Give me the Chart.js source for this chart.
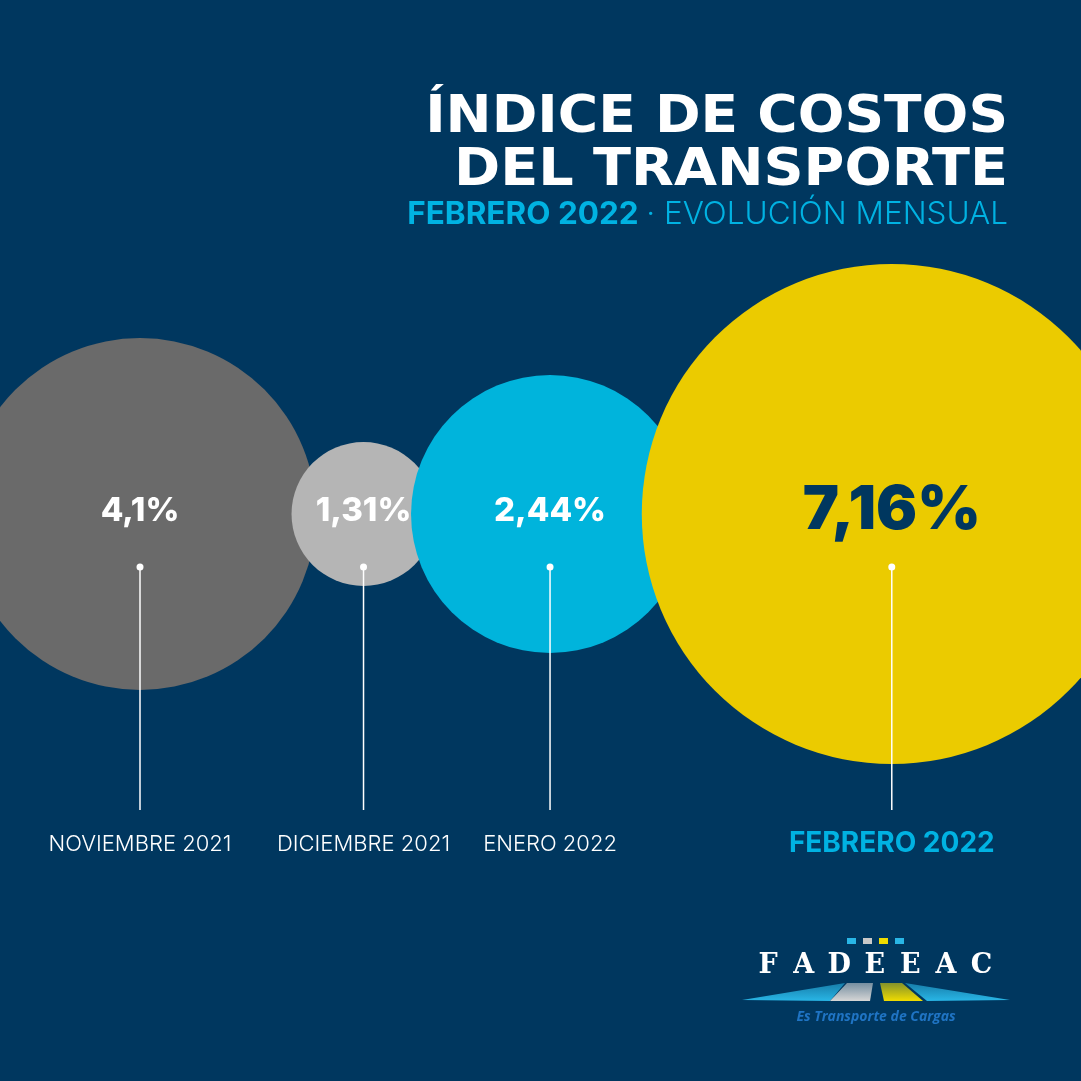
<!DOCTYPE html>
<html>
<head>
<meta charset="utf-8">
<script src="https://cdn.jsdelivr.net/npm/chart.js@4.4.1/dist/chart.umd.min.js"></script>
<style>
  html, body { margin: 0; padding: 0; background: #00375f; }
  #grafico { display: block; }
</style>
</head>
<body>
<canvas id="grafico" width="1081" height="1081"></canvas>
<script>
// datos
var meses = ['NOVIEMBRE 2021', 'DICIEMBRE 2021', 'ENERO 2022', 'FEBRERO 2022'];
var variacion = [4.1, 1.31, 2.44, 7.16];

// estilo de las burbujas
var colores = ['#6a6a6a', '#b5b5b5', '#00b4dc', '#ebcb00'];
var radios = [176, 72, 139, 250];
var fondo = '#00375f';
var celeste = '#00b2e2';

// burbujas encadenadas: cada una se monta sobre la anterior
// un tercio del radio de la mas chica de las dos
var inicio = 140, solape = 0.34;
var posX = [];
radios.forEach(function (r, i) {
    if (i === 0) { posX.push(inicio); return; }
    var prev = radios[i - 1];
    posX.push(posX[i - 1] + prev + r - solape * Math.min(prev, r));
});

function etiqueta(v) {
    return String(v).replace('.', ',') + '%';
}

// texto estirado en horizontal, alineado a la derecha
function textoAncho(c, txt, x, y, k) {
    c.save();
    c.translate(x, y);
    c.scale(k, 1);
    c.fillText(txt, 0, 0);
    c.restore();
}

var decorado = {
    id: 'decorado',
    beforeDraw: function (chart) {
        var c = chart.ctx;
        c.save();
        c.fillStyle = fondo;
        c.fillRect(0, 0, chart.width, chart.height);
        c.restore();
    },
    afterDatasetsDraw: function (chart) {
        var c = chart.ctx;
        var meta = chart.getDatasetMeta(0);
        c.save();
        meta.data.forEach(function (p, i) {
            var ultimo = i === meta.data.length - 1;
            // valor
            c.textAlign = 'center';
            c.textBaseline = 'middle';
            if (ultimo) {
                c.fillStyle = fondo;
                c.font = '900 61px Inter';
            } else {
                c.fillStyle = '#ffffff';
                c.font = '800 33px Inter';
            }
            c.fillText(etiqueta(variacion[i]), p.x, p.y - 3);
            // punto y linea
            c.fillStyle = '#ffffff';
            c.strokeStyle = '#ffffff';
            c.lineWidth = 1.5;
            c.beginPath();
            c.arc(p.x, p.y + 53, 3.5, 0, Math.PI * 2);
            c.fill();
            c.beginPath();
            c.moveTo(p.x, p.y + 53);
            c.lineTo(p.x, 810);
            c.stroke();
            // mes
            if (ultimo) {
                c.fillStyle = celeste;
                c.font = '700 28px Inter';
            } else {
                c.fillStyle = '#ffffff';
                c.font = '300 22px Inter';
            }
            c.fillText(meses[i], p.x, 844);
        });
        c.restore();
    },
    afterDraw: function (chart) {
        var c = chart.ctx;
        c.save();
        // titulo
        c.fillStyle = '#ffffff';
        c.textAlign = 'right';
        c.textBaseline = 'alphabetic';
        c.font = 'bold 52px "DejaVu Sans"';
        textoAncho(c, 'ÍNDICE DE COSTOS', 1008, 132, 1.058);
        textoAncho(c, 'DEL TRANSPORTE', 1008, 185, 1.07);
        // subtitulo
        c.fillStyle = celeste;
        c.font = '300 31.5px Inter';
        var resto = '· EVOLUCIÓN MENSUAL';
        c.fillText(resto, 1008, 224);
        var w = c.measureText(resto).width;
        c.font = '700 31.5px Inter';
        c.fillText('FEBRERO 2022 ', 1008 - w, 224);

        // logo FADEEAC
        var cuadros = ['#29b6e6', '#c8c8c8', '#f0dc00', '#29b6e6'];
        cuadros.forEach(function (col, i) {
            c.fillStyle = col;
            c.fillRect(847 + i * 16, 938, 9, 6);
        });
        c.fillStyle = '#ffffff';
        c.textAlign = 'center';
        c.font = 'bold 27px "DejaVu Serif"';
        'FADEEAC'.split('').forEach(function (l, i) {
            c.fillText(l, 768 + i * 35.6, 973);
        });
        var franjas = [
            ['41,182,230', [[742, 1000], [845, 983], [830, 1001]]],
            ['214,214,214', [[847, 983], [873, 983], [870, 1001], [830, 1001]]],
            ['240,220,0', [[880, 983], [902, 983], [923, 1001], [884, 1001]]],
            ['41,182,230', [[905, 983], [1010, 1000], [927, 1001]]]
        ];
        franjas.forEach(function (f) {
            var g = c.createLinearGradient(0, 983, 0, 1001);
            g.addColorStop(0, 'rgba(' + f[0] + ',0.55)');
            g.addColorStop(1, 'rgba(' + f[0] + ',1)');
            c.fillStyle = g;
            c.beginPath();
            f[1].forEach(function (pt, k) {
                if (k === 0) c.moveTo(pt[0], pt[1]); else c.lineTo(pt[0], pt[1]);
            });
            c.closePath();
            c.fill();
        });
        c.fillStyle = '#1f74c4';
        c.font = 'italic bold 14px "Open Sans"';
        c.fillText('Es Transporte de Cargas', 876, 1021);
        c.restore();
    }
};

var ctx = document.querySelector('#grafico').getContext('2d');
var grafico = new Chart(ctx, {
    type: 'bubble',
    data: {
        datasets: [{
            label: 'Índice de costos',
            data: variacion.map(function (v, i) {
                return { x: posX[i], y: 0, r: radios[i], v: v };
            }),
            backgroundColor: colores,
            hoverBackgroundColor: colores,
            borderWidth: 0,
            hoverBorderWidth: 0,
            hoverRadius: 0,
            clip: false
        }]
    },
    options: {
        responsive: false,
        animation: false,
        events: [],
        layout: { autoPadding: false, padding: { top: 0, left: 0, right: 0, bottom: 53 } },
        scales: {
            x: { type: 'linear', min: 0, max: 1081, display: false },
            y: { type: 'linear', min: -1, max: 1, display: false }
        },
        plugins: {
            legend: { display: false },
            tooltip: { enabled: false }
        }
    },
    plugins: [decorado]
});
</script>
</body>
</html>
